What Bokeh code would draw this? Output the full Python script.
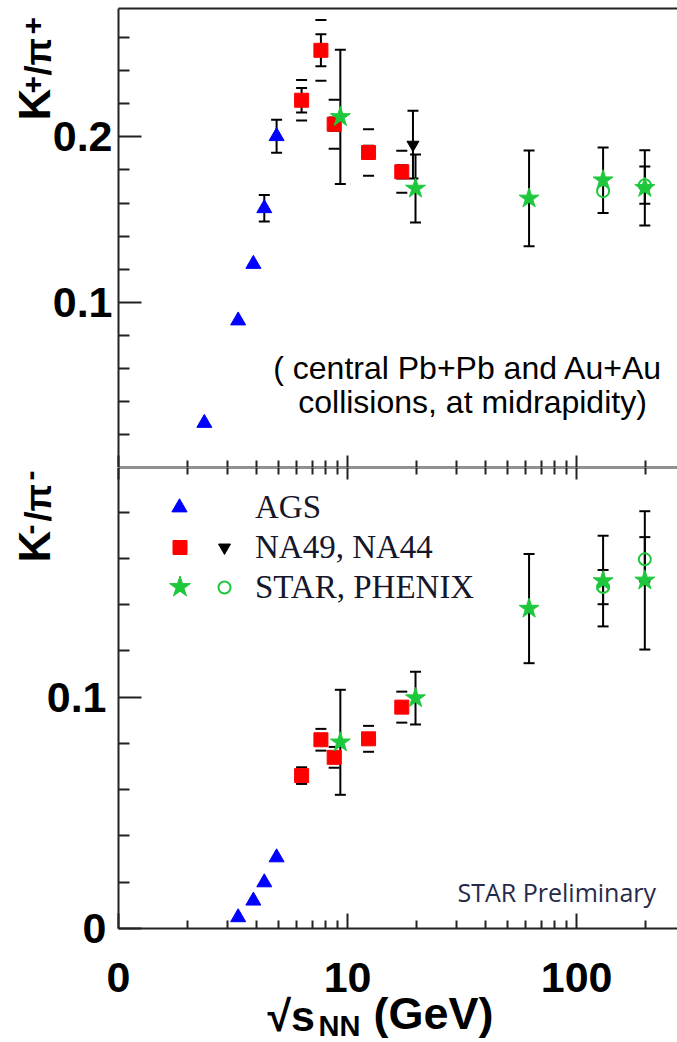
import numpy as np
from math import pi, log10

from bokeh.plotting import figure
from bokeh.layouts import column
from bokeh.models import (Range1d, FixedTicker, LogAxis, ColumnDataSource, Whisker,
                          TeeHead, Label, Legend, LegendItem)
from bokeh.embed import file_html
from bokeh.resources import INLINE

NAN = float("nan")

# ---------------- data ----------------
# AGS
ags_x_kp = [2.37, 3.33, 3.88, 4.33, 4.90]
ags_kp = [0.0269, 0.0889, 0.1231, 0.1568, 0.2004]
ags_kp_err = [NAN, NAN, NAN, 0.008, 0.010]
ags_x_km = [3.33, 3.88, 4.33, 4.90]
ags_km = [0.0048, 0.0120, 0.0199, 0.0307]

# NA49
na49_x = [6.30, 7.65, 8.74, 12.35, 17.25]
na49_kp = [0.2222, 0.2524, 0.2077, 0.1906, 0.1789]
na49_kp_stat = [0.0074, 0.0097, 0.004, 0.004, 0.004]
na49_kp_sys = [0.0123, 0.0184, 0.0148, 0.0141, 0.0127]
na49_km = [0.0661, 0.0816, 0.0740, 0.0820, 0.0957]
na49_km_sys = [0.0036, 0.0047, 0.0045, 0.0056, 0.0067]

# NA44
na44_x_kp = [19.3]
na44_kp = [0.1953]
na44_kp_err = [0.0205]

# STAR
star_x = [9.3, 19.8, 62.0, 130.5, 198.5]
star_kp = [0.2121, 0.1688, 0.1628, 0.1738, 0.1692]
star_kp_err = [0.0406, 0.0205, 0.0290, 0.0198, 0.0228]
star_km = [0.0805, 0.0996, 0.1383, 0.1502, 0.1505]
star_km_err = [0.0227, 0.0114, 0.0236, 0.0196, 0.0299]

# PHENIX
phenix_x = [130.5, 198.5]
phenix_kp = [0.1672, 0.1708]
phenix_kp_err = [NAN, 0.0113]
phenix_km = [0.1476, 0.1596]
phenix_km_err = [0.0074, 0.0096]

# axis ticks
x_major = [1, 10, 100]
x_major_labels = {1: "0", 10: "10", 100: "100"}
x_minor = [2, 3, 4, 5, 6, 7, 8, 9, 20, 30, 40, 50, 60, 70, 80, 90, 200]
kp_major = [0.1, 0.2]
kp_minor = [0.02, 0.04, 0.06, 0.08, 0.12, 0.14, 0.16, 0.18, 0.22, 0.24, 0.26]
km_major = [0.0, 0.1]
km_minor = [0.02, 0.04, 0.06, 0.08, 0.12, 0.14, 0.16, 0.18]

# ---------------- geometry & styling ----------------
AXIS = "#222222"
BLUE = "#0000ff"
RED = "#ff0000"
GREEN = "#1ec83c"
SANS = "Liberation Sans"
SERIF = "Liberation Serif"

W = 677
PANEL_LEFT = 118            # pixel column of the y axes
X_MIN, X_MAX = 1.0, 275.7   # visible sqrt(s) span of the panels
KP_MAX = 0.2777             # top of the K+/pi+ panel
KM_MAX = 0.1993             # top of the K-/pi- panel
TOP_H, TOP_GAP = 467, 8     # upper canvas height, space above its panel
BOT_H, BOT_PANEL = 575, 461 # lower canvas height, height of its panel

# Each canvas is entirely covered by its frame; the visible panel is outlined
# by axes pinned to fixed data locations, so titles can sit anywhere.
decade_px = (W - PANEL_LEFT) / log10(X_MAX / X_MIN)
x_range = (X_MIN / 10 ** (PANEL_LEFT / decade_px), X_MAX)
top_yrange = (0.0, KP_MAX * TOP_H / (TOP_H - TOP_GAP))
bot_yrange = (-KM_MAX * (BOT_H - BOT_PANEL) / BOT_PANEL, KM_MAX)


def new_fig(height, y_range):
    p = figure(width=W, height=height, x_axis_type="log",
               x_range=Range1d(*x_range), y_range=Range1d(*y_range),
               output_backend="svg", toolbar_location=None, min_border=0)
    p.outline_line_color = None
    p.grid.visible = False
    p.background_fill_color = "white"
    p.border_fill_color = "white"
    return p


def style_axis(ax, major_in, minor_in, label_size="12px", standoff=0, labels=True):
    ax.axis_line_color = AXIS
    ax.axis_line_width = 2
    ax.major_tick_line_color = AXIS
    ax.minor_tick_line_color = AXIS
    ax.major_tick_line_width = 2
    ax.minor_tick_line_width = 2
    ax.major_tick_in = major_in
    ax.major_tick_out = 0
    ax.minor_tick_in = minor_in
    ax.minor_tick_out = 0
    ax.major_label_text_font = SANS
    ax.major_label_text_font_style = "bold"
    ax.major_label_text_font_size = label_size
    ax.major_label_text_color = "black"
    ax.major_label_text_alpha = 1.0 if labels else 0.0
    ax.major_label_standoff = standoff


def errbars(p, x, y, err, head=11, line=True):
    x = np.asarray(x, float)
    y = np.asarray(y, float)
    e = np.asarray(err, float)
    keep = ~np.isnan(e)
    src = ColumnDataSource(dict(x=x[keep], lo=y[keep] - e[keep], hi=y[keep] + e[keep]))
    w = Whisker(source=src, base="x", lower="lo", upper="hi", dimension="height",
                line_color="black", line_width=2, line_alpha=1.0 if line else 0.0,
                lower_head=TeeHead(size=head, line_color="black", line_width=2),
                upper_head=TeeHead(size=head, line_color="black", line_width=2),
                level="underlay")
    p.add_layout(w)


def screen_label(p, x, y, text, size, angle=0.0, style="bold", font=SANS,
                 align="left", color="black"):
    """Text whose vertical middle sits at (x, y), canvas pixels from bottom-left."""
    p.add_layout(Label(x=x, y=y, x_units="screen", y_units="screen", text=text,
                       angle=angle, text_font=font, text_font_size=size,
                       text_font_style=style, text_align=align,
                       text_baseline="middle", text_color=color))


def key(p, renderer, label, cx, cy, size, text_x=None):
    """One legend row: marker of the given size centred at (cx, cy) in canvas pixels
    measured from the bottom-left corner; the label starts at text_x."""
    gw = int(round(size / 0.4))
    gh = max(gw, 44)
    left = int(round(cx - gw / 2))
    standoff = 0 if text_x is None else int(text_x - (left + gw))
    leg = Legend(items=[LegendItem(label=label, renderers=[renderer])],
                 location=(left, int(round(cy - gh / 2))),
                 glyph_width=gw, glyph_height=gh, label_standoff=standoff,
                 label_width=1, label_height=1, spacing=0, padding=0, margin=0,
                 border_line_color=None, background_fill_alpha=0,
                 inactive_fill_alpha=0,
                 label_text_font=SERIF, label_text_font_size="33px",
                 label_text_color="#16162a", label_text_baseline="middle")
    p.add_layout(leg, "center")


# ---------------- upper panel: K+/pi+ ----------------
top = new_fig(TOP_H, top_yrange)

xa = top.xaxis[0]
xa.ticker = FixedTicker(ticks=x_major, minor_ticks=x_minor)
xa.fixed_location = 0.0
xa.bounds = (X_MIN, X_MAX)
style_axis(xa, 12, 7, labels=False)

ya = top.yaxis[0]
ya.ticker = FixedTicker(ticks=kp_major, minor_ticks=kp_minor)
ya.fixed_location = X_MIN
ya.bounds = (0.0, KP_MAX)
style_axis(ya, 23, 11, "43px", 6)

top_line = LogAxis(ticker=FixedTicker(ticks=[X_MIN]), fixed_location=KP_MAX,
                   bounds=(X_MIN, X_MAX))
style_axis(top_line, 0, 0, labels=False)
top.add_layout(top_line, "above")

errbars(top, ags_x_kp, ags_kp, ags_kp_err)
errbars(top, na49_x, na49_kp, na49_kp_stat)
errbars(top, na49_x, na49_kp, na49_kp_sys, line=False)
errbars(top, na44_x_kp, na44_kp, na44_kp_err)
errbars(top, star_x, star_kp, star_kp_err)
errbars(top, phenix_x, phenix_kp, phenix_kp_err)

top.scatter(ags_x_kp, ags_kp, marker="triangle", size=15, color=BLUE)
top.scatter(na49_x, na49_kp, marker="square", size=14, color=RED)
top.scatter(na44_x_kp, na44_kp, marker="inverted_triangle", size=12, color="black")
top.scatter(phenix_x, phenix_kp, marker="circle", size=12, fill_color=None,
            line_color=GREEN, line_width=2)
top.scatter(star_x, star_kp, marker="star", size=21, color=GREEN)

# y title K+/pi+
screen_label(top, 34, 347, "K", "44px", angle=pi / 2)
screen_label(top, 32, 374, "+", "30px", angle=pi / 2)
screen_label(top, 38, 392, "/π", "36px", angle=pi / 2)
screen_label(top, 32, 433, "+", "30px", angle=pi / 2)

screen_label(top, 472, 100, "( central Pb+Pb and  Au+Au", "32px", style="normal",
             align="center")
screen_label(top, 472, 66, "collisions, at midrapidity)", "32px", style="normal",
             align="center")

# ---------------- lower panel: K-/pi- ----------------
bot = new_fig(BOT_H, bot_yrange)

bx = bot.xaxis[0]
bx.ticker = FixedTicker(ticks=x_major, minor_ticks=x_minor)
bx.fixed_location = 0.0
bx.bounds = (X_MIN, X_MAX)
style_axis(bx, 15, 8, "43px", 34)
bx.major_label_overrides = x_major_labels

by = bot.yaxis[0]
by.ticker = FixedTicker(ticks=km_major, minor_ticks=km_minor)
by.fixed_location = X_MIN
by.bounds = (0.0, KM_MAX)
style_axis(by, 23, 11, "43px", 12)

mid_axis = LogAxis(ticker=FixedTicker(ticks=x_major, minor_ticks=x_minor),
                   fixed_location=KM_MAX, bounds=(X_MIN, X_MAX))
style_axis(mid_axis, 12, 7, labels=False)
bot.add_layout(mid_axis, "above")

errbars(bot, na49_x, na49_km, na49_km_sys, line=False)
errbars(bot, star_x, star_km, star_km_err)
errbars(bot, phenix_x, phenix_km, phenix_km_err)

r_ags = bot.scatter(ags_x_km, ags_km, marker="triangle", size=15, color=BLUE)
r_na49 = bot.scatter(na49_x, na49_km, marker="square", size=14, color=RED)
r_phenix = bot.scatter(phenix_x, phenix_km, marker="circle", size=12, fill_color=None,
                       line_color=GREEN, line_width=2)
r_star = bot.scatter(star_x, star_km, marker="star", size=21, color=GREEN)
# NA44 has no K- point in this panel; this hidden renderer only supplies its key
r_na44 = bot.scatter(na44_x_kp, na44_kp, marker="inverted_triangle", size=12,
                     color="black", visible=False)
r_blank = bot.scatter([], [], marker="circle", size=1, fill_alpha=0, line_alpha=0)

# legend: two marker columns, labels on the right
key(bot, r_ags, " ", 179, 535, 15)
key(bot, r_na49, " ", 179, 495, 14)
key(bot, r_star, " ", 179, 455, 22)
key(bot, r_blank, "AGS", 224, 535, 12, text_x=255)
key(bot, r_na44, "NA49, NA44", 224, 495, 12, text_x=255)
key(bot, r_phenix, "STAR, PHENIX", 224, 455, 12, text_x=255)

# y title K-/pi-
screen_label(bot, 34, 480, "K", "44px", angle=pi / 2)
screen_label(bot, 29, 508, "-", "30px", angle=pi / 2)
screen_label(bot, 38, 521, "/π", "36px", angle=pi / 2)
screen_label(bot, 29, 562, "-", "30px", angle=pi / 2)

# x title sqrt(s_NN) (GeV)
screen_label(bot, 267, 27, "√s", "43px")
screen_label(bot, 318, 17, "NN", "29px")
screen_label(bot, 373, 29, "(GeV)", "45px")

screen_label(bot, 457, 151, "STAR Preliminary", "25px", style="normal",
             font="Open Sans", color="#262a4a")

page = column(top, bot, spacing=0)
open("out.html", "w").write(file_html(page, INLINE))
